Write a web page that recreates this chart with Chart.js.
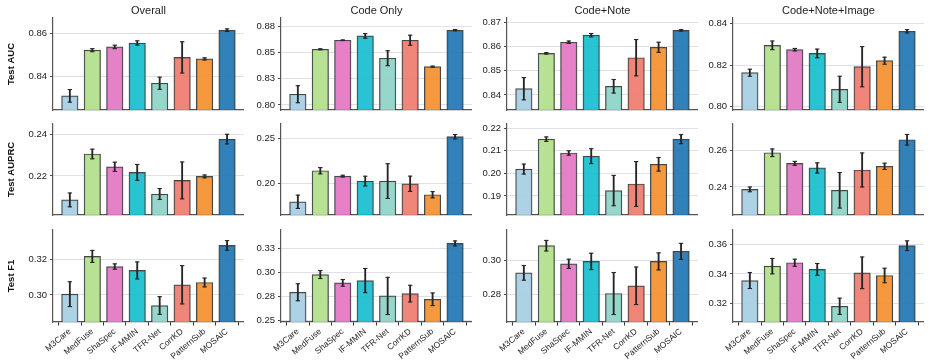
<!DOCTYPE html>
<html><head><meta charset="utf-8">
<script src="https://cdn.jsdelivr.net/npm/chart.js@4.4.1/dist/chart.umd.min.js"></script>
<style>
html,body{margin:0;padding:0;background:#fff;}
#wrap{position:relative;width:933px;height:363px;overflow:hidden;background:#fff;}
canvas{position:absolute;}
</style></head><body><div id="wrap"></div>
<script>
const categories = ['M3Care','MedFuse','ShaSpec','IF-MMIN','TFR-Net','CorrKD','PatternSub','MOSAIC'];
const settings = ['Overall','Code Only','Code+Note','Code+Note+Image'];
const metrics = ['Test AUC','Test AUPRC','Test F1'];
const barColors = ['#a6cee3','#b2df8a','#e377c2','#17becf','#8dd3c7','#f07b6e','#f58f2c','#1f77b4'];

// Test AUC
const aucOverall = [0.8312,0.8522,0.8537,0.8555,0.8370,0.8489,0.8482,0.8614];
const aucOverallErr = [0.0029,0.0007,0.0008,0.0010,0.0028,0.0072,0.0005,0.0006];
const aucCode = [0.8102,0.8529,0.8615,0.8656,0.8444,0.8615,0.8364,0.8710];
const aucCodeErr = [0.0081,0.0005,0.0003,0.0022,0.0071,0.0048,0.0005,0.0006];
const aucNote = [0.8426,0.8572,0.8618,0.8647,0.8436,0.8554,0.8597,0.8667];
const aucNoteErr = [0.0046,0.0003,0.0005,0.0007,0.0028,0.0075,0.0021,0.0003];
const aucImage = [0.8164,0.8296,0.8275,0.8257,0.8084,0.8193,0.8222,0.8364];
const aucImageErr = [0.0017,0.0021,0.0006,0.0021,0.0063,0.0097,0.0017,0.0008];
// Test AUPRC
const auprcOverall = [0.2086,0.2305,0.2244,0.2217,0.2114,0.2179,0.2198,0.2376];
const auprcOverallErr = [0.0033,0.0023,0.0022,0.0038,0.0026,0.0088,0.0007,0.0023];
const auprcCode = [0.1796,0.2141,0.2081,0.2026,0.2026,0.1996,0.1874,0.2519];
const auprcCodeErr = [0.0074,0.0035,0.0010,0.0054,0.0193,0.0085,0.0035,0.0024];
const auprcNote = [0.2019,0.2151,0.2090,0.2076,0.1924,0.1953,0.2040,0.2151];
const auprcNoteErr = [0.0022,0.0010,0.0010,0.0033,0.0067,0.0099,0.0030,0.0020];
const auprcImage = [0.2387,0.2587,0.2529,0.2504,0.2382,0.2493,0.2513,0.2658];
const auprcImageErr = [0.0013,0.0021,0.0011,0.0028,0.0097,0.0093,0.0017,0.0029];
// Test F1
const f1Overall = [0.3004,0.3217,0.3160,0.3138,0.2940,0.3057,0.3070,0.3279];
const f1OverallErr = [0.0070,0.0034,0.0015,0.0048,0.0050,0.0108,0.0025,0.0027];
const f1Code = [0.2796,0.2981,0.2894,0.2918,0.2758,0.2782,0.2723,0.3305];
const f1CodeErr = [0.0089,0.0042,0.0035,0.0126,0.0194,0.0087,0.0066,0.0026];
const f1Note = [0.2929,0.3088,0.2982,0.2996,0.2808,0.2853,0.2996,0.3055];
const f1NoteErr = [0.0043,0.0031,0.0027,0.0048,0.0123,0.0110,0.0050,0.0047];
const f1Image = [0.3356,0.3453,0.3476,0.3431,0.3182,0.3408,0.3390,0.3591];
const f1ImageErr = [0.0054,0.0052,0.0024,0.0040,0.0055,0.0107,0.0049,0.0033];

// y tick values and labels per panel (row-major)
const yTickValues = [
  [0.84,0.86],[0.800,0.825,0.850,0.875],[0.84,0.85,0.86,0.87],[0.80,0.82,0.84],
  [0.22,0.24],[0.20,0.25],[0.19,0.20,0.21,0.22],[0.24,0.26],
  [0.30,0.32],[0.250,0.275,0.300,0.325],[0.28,0.30],[0.32,0.34,0.36]
];
const yTickLabels = [
  ['0.84','0.86'],['0.80','0.83','0.85','0.88'],['0.84','0.85','0.86','0.87'],['0.80','0.82','0.84'],
  ['0.22','0.24'],['0.20','0.25'],['0.19','0.20','0.21','0.22'],['0.24','0.26'],
  ['0.30','0.32'],['0.25','0.28','0.30','0.33'],['0.28','0.30'],['0.32','0.34','0.36']
];
const yMin = [0.8247,0.7952,0.8338,0.7984, 0.2014,0.1649,0.1816,0.2247, 0.2847,0.2486,0.2641,0.3076];
const yMax = [0.8670,0.8826,0.8718,0.8428, 0.2448,0.2660,0.2218,0.2744, 0.3366,0.3445,0.3180,0.3697];

const values = [aucOverall,aucCode,aucNote,aucImage, auprcOverall,auprcCode,auprcNote,auprcImage, f1Overall,f1Code,f1Note,f1Image];
const errors = [aucOverallErr,aucCodeErr,aucNoteErr,aucImageErr, auprcOverallErr,auprcCodeErr,auprcNoteErr,auprcImageErr, f1OverallErr,f1CodeErr,f1NoteErr,f1ImageErr];

const FONT = "'Liberation Sans', Arial, Helvetica, sans-serif";
const colX = [53,281,507,733];
const rowTop = [18,124,230];
const plotW = 193;
const plotH = [92,91,92];
const wrap = document.getElementById('wrap');

function hexA(h,a){const n=parseInt(h.slice(1),16);return `rgba(${n>>16&255},${n>>8&255},${n&255},${a})`;}

for (let r=0;r<3;r++){
  for (let c=0;c<4;c++){
    const p = r*4+c;
    const vals = values[p], errs = errors[p];
    const yW = c===0?53:45;
    const topArea = r===0?18:10;
    const xH = r===2?41:10;
    const w = yW+plotW+3, h = topArea+plotH[r]+xH;
    const cv = document.createElement('canvas');
    cv.width = w; cv.height = h;
    cv.style.left = (colX[c]-yW)+'px';
    cv.style.top = (rowTop[r]-topArea)+'px';
    cv.style.width = w+'px'; cv.style.height = h+'px';
    wrap.appendChild(cv);
    const caps = [];
    vals.forEach((v,i)=>{caps.push({x:i,y:v+errs[i]});caps.push({x:i,y:v-errs[i]});});
    new Chart(cv, {
      type:'bar',
      data:{datasets:[
        {type:'bar', data:vals.map((v,i)=>({x:i,y:v})), backgroundColor:barColors.map(col=>hexA(col,0.92)),
         borderColor:'rgba(40,40,40,0.85)', borderWidth:1.2, barThickness:16.5, grouped:false, order:3},
        {type:'bar', data:vals.map((v,i)=>({x:i,y:[v-errs[i],v+errs[i]]})), backgroundColor:'#262626',
         borderWidth:0, barThickness:1.2, grouped:false, order:2},
        {type:'scatter', data:caps, pointStyle:'line', radius:2.2, borderColor:'#262626', borderWidth:1.1, order:1}
      ]},
      options:{
        responsive:false, animation:false, devicePixelRatio:1,
        layout:{padding:{top:r===0?0:10,right:3,bottom:0,left:0}},
        plugins:{legend:{display:false}, tooltip:{enabled:false},
          title:{display:r===0, text:settings[c], fullSize:false, color:'#222', font:{size:11,family:FONT,weight:'normal'}, padding:{top:4.8,bottom:0}}},
        scales:{
          x:{type:'linear', min:-0.75, max:7.75, offset:false,
             grid:{display:r===2, drawOnChartArea:false, drawTicks:true, tickLength:3.5, tickColor:'#333'},
             border:{display:true, color:'#555', width:1.2},
             ticks:{display:r===2, autoSkip:false, maxRotation:40, minRotation:40, color:'#222', padding:1,
                    font:{size:8.5,family:FONT}, callback:(v)=>categories[v]},
             afterBuildTicks:(ax)=>{ax.ticks=categories.map((_,i)=>({value:i}));},
             afterFit:(ax)=>{ax.height=xH;}},
          y:{min:yMin[p], max:yMax[p],
             grid:{color:'#dcdce8', lineWidth:0.9, tickColor:'#333', tickLength:3},
             border:{display:true, color:'#555', width:1.2},
             ticks:{color:'#222', padding:3, font:{size:9.5,family:FONT}, callback:(v,i)=>yTickLabels[p][i]},
             afterBuildTicks:(ax)=>{ax.ticks=yTickValues[p].map(v=>({value:v}));},
             afterFit:(ax)=>{ax.width=yW;},
             title:{display:c===0, text:metrics[r], color:'#111', font:{size:9.5,weight:'bold',family:FONT}, padding:{top:6,bottom:0}}}
        }
      }
    });
  }
}
</script></body></html>
